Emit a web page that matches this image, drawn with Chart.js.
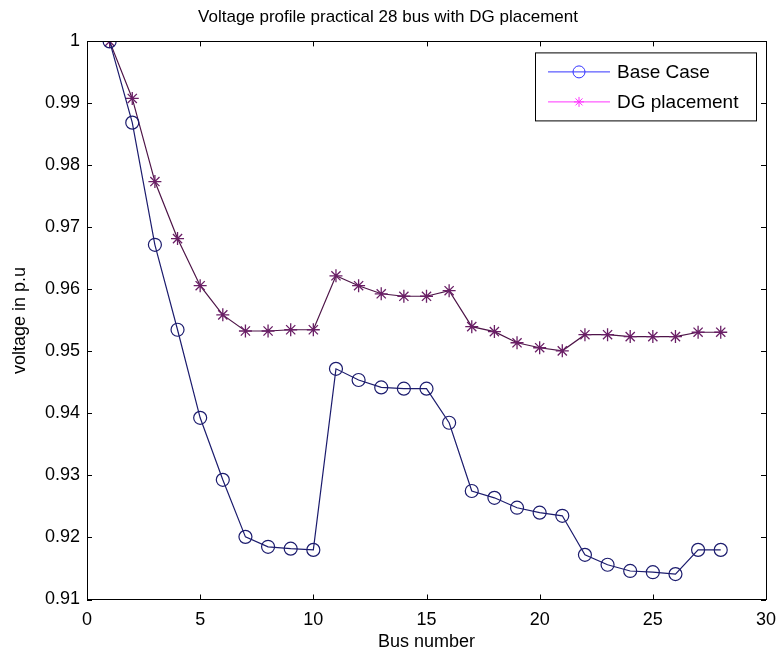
<!DOCTYPE html>
<html>
<head>
<meta charset="utf-8">
<script src="https://cdn.jsdelivr.net/npm/chart.js@4/dist/chart.umd.min.js"></script>
<style>
html,body{margin:0;padding:0;background:#fff;}
#wrap{width:776px;height:658px;}
</style>
</head>
<body>
<div id="wrap"><canvas id="c" width="776" height="658"></canvas></div>
<script>
const buses = [1,2,3,4,5,6,7,8,9,10,11,12,13,14,15,16,17,18,19,20,21,22,23,24,25,26,27,28];
const baseCase = [1.000,0.9869,0.9672,0.9535,0.9393,0.9293,0.9201,0.9185,0.9182,0.9180,0.9472,0.9454,0.9442,0.9440,0.9440,0.9385,0.9275,0.9264,0.9248,0.9240,0.9235,0.9172,0.9156,0.9146,0.9144,0.9141,0.9180,0.9180];
const dgPlacement = [1.000,0.9908,0.9774,0.9682,0.9606,0.9559,0.9533,0.9533,0.9535,0.9535,0.9622,0.9606,0.9593,0.9589,0.9589,0.9598,0.9540,0.9532,0.9514,0.9506,0.9501,0.9527,0.9527,0.9524,0.9524,0.9524,0.9531,0.9531];
const seriesNames = ['Base Case','DG placement'];
const xTicks = [0,5,10,15,20,25,30];
const yTicks = [0.91,0.92,0.93,0.94,0.95,0.96,0.97,0.98,0.99,1];

const FONT = "'Liberation Sans', Arial, Helvetica, sans-serif";

const toPts = (xs, ys) => xs.map((x, i) => ({x: x, y: ys[i]}));

const boxTicks = {
  id: 'boxTicks',
  afterDatasetsDraw(chart) {
    const {ctx, chartArea: a, scales} = chart;
    ctx.save();
    ctx.strokeStyle = '#000';
    ctx.lineWidth = 1;
    const L = 5;
    ctx.beginPath();
    xTicks.forEach(v => {
      const px = Math.round(scales.x.getPixelForValue(v)) + 0.5;
      ctx.moveTo(px, a.bottom); ctx.lineTo(px, a.bottom - L);
      ctx.moveTo(px, a.top); ctx.lineTo(px, a.top + L);
    });
    yTicks.forEach(v => {
      const py = Math.round(scales.y.getPixelForValue(v)) + 0.5;
      ctx.moveTo(a.left, py); ctx.lineTo(a.left + L, py);
      ctx.moveTo(a.right, py); ctx.lineTo(a.right - L, py);
    });
    ctx.stroke();
    ctx.strokeRect(Math.round(a.left) + 0.5, Math.round(a.top) + 0.5, Math.round(a.right - a.left), Math.round(a.bottom - a.top));
    ctx.restore();
  }
};

const matLegend = {
  id: 'matLegend',
  afterDraw(chart) {
    const {ctx, chartArea: a} = chart;
    const x0 = a.right - 231, y0 = a.top + 11, w = 221, h = 68;
    ctx.save();
    ctx.fillStyle = '#fff';
    ctx.fillRect(x0, y0, w, h);
    ctx.strokeStyle = '#000';
    ctx.lineWidth = 1;
    ctx.strokeRect(x0 + 0.5, y0 + 0.5, w, h);
    const cols = ['#3333ff', '#ff33ff'];
    const rows = [y0 + 19.5, y0 + 49.5];
    ctx.font = "19px " + FONT;
    ctx.textBaseline = 'middle';
    seriesNames.forEach((name, i) => {
      const ry = rows[i];
      ctx.strokeStyle = cols[i];
      ctx.lineWidth = 1;
      ctx.beginPath();
      ctx.moveTo(x0 + 13, ry); ctx.lineTo(x0 + 75, ry);
      ctx.stroke();
      const cx = x0 + 44;
      ctx.beginPath();
      if (i === 0) {
        ctx.arc(cx, ry, 6, 0, Math.PI * 2);
      } else {
        const r = 5;
        ctx.moveTo(cx - r, ry); ctx.lineTo(cx + r, ry);
        ctx.moveTo(cx, ry - r); ctx.lineTo(cx, ry + r);
        ctx.moveTo(cx - r * 0.7, ry - r * 0.7); ctx.lineTo(cx + r * 0.7, ry + r * 0.7);
        ctx.moveTo(cx - r * 0.7, ry + r * 0.7); ctx.lineTo(cx + r * 0.7, ry - r * 0.7);
      }
      ctx.stroke();
      ctx.fillStyle = '#000';
      ctx.fillText(name, x0 + 82, ry + 1);
    });
    ctx.restore();
  }
};

new Chart(document.getElementById('c'), {
  type: 'line',
  data: {
    datasets: [
      {
        label: seriesNames[0],
        data: toPts(buses, baseCase),
        borderColor: '#1c1c6e',
        backgroundColor: 'rgba(0,0,0,0)',
        borderWidth: 1.2,
        pointStyle: 'circle',
        pointRadius: 6.5,
        pointBorderWidth: 1.2,
        pointBorderColor: '#1c1c6e',
        pointBackgroundColor: 'rgba(0,0,0,0)',
        tension: 0,
        fill: false
      },
      {
        label: seriesNames[1],
        data: toPts(buses, dgPlacement),
        borderColor: '#4e1548',
        backgroundColor: 'rgba(0,0,0,0)',
        borderWidth: 1.2,
        pointStyle: 'star',
        pointRadius: 6.5,
        pointBorderWidth: 1.3,
        pointBorderColor: '#6a1f66',
        pointBackgroundColor: 'rgba(0,0,0,0)',
        tension: 0,
        fill: false
      }
    ]
  },
  options: {
    responsive: false,
    animation: false,
    devicePixelRatio: 1,
    layout: {padding: {left: 0, right: 0, top: 0, bottom: 0}},
    plugins: {
      legend: {display: false},
      tooltip: {enabled: false},
      title: {
        display: true,
        text: 'Voltage profile practical 28 bus with DG placement',
        color: '#000',
        font: {family: FONT, size: 17, weight: 'normal'},
        padding: {top: 7, bottom: 14}
      }
    },
    scales: {
      x: {
        type: 'linear',
        min: 0, max: 30,
        afterBuildTicks(scale) { scale.ticks = xTicks.map(v => ({value: v})); },
        afterFit(scale) { scale.height = 58.5; scale.paddingRight = 10; scale.paddingLeft = 5; },
        grid: {display: false, drawTicks: false},
        border: {display: false},
        ticks: {color: '#000', font: {family: FONT, size: 18}, padding: 10, maxRotation: 0,
          callback: v => String(v)},
        title: {display: true, text: 'Bus number', color: '#000', font: {family: FONT, size: 18}, padding: {top: 0, bottom: 5}}
      },
      y: {
        type: 'linear',
        min: 0.91, max: 1,
        afterBuildTicks(scale) { scale.ticks = yTicks.map(v => ({value: v})); },
        afterFit(scale) { scale.width = 87; },
        grid: {display: false, drawTicks: false},
        border: {display: false},
        ticks: {color: '#000', font: {family: FONT, size: 18}, padding: 7,
          callback: v => String(Number(v.toFixed(2)))},
        title: {display: true, text: 'voltage in p.u', color: '#000', font: {family: FONT, size: 18}, padding: {top: 9, bottom: 0}}
      }
    }
  },
  plugins: [boxTicks, matLegend]
});
</script>
</body>
</html>
